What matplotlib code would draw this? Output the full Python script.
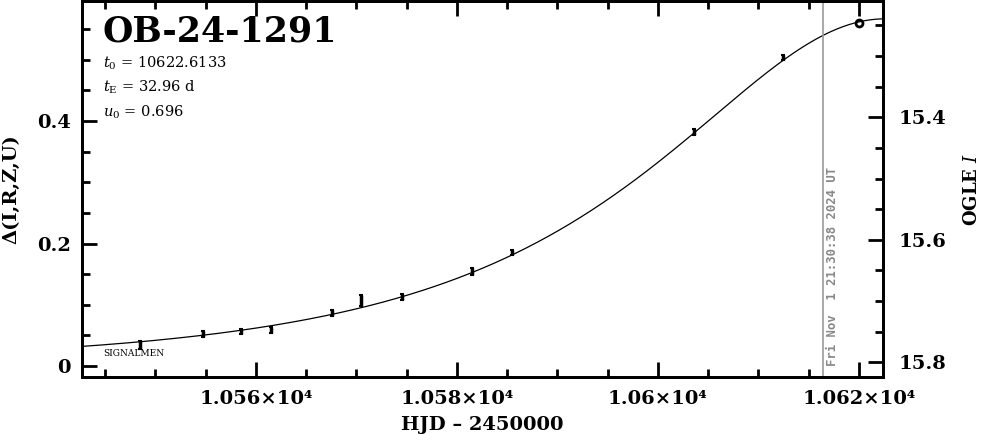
import numpy as np
import matplotlib
matplotlib.use('Agg')
import matplotlib.pyplot as plt
from matplotlib.ticker import MultipleLocator, FuncFormatter

# event parameters shown on the chart
event_name = 'OB-24-1291'
t0 = 10622.6133
tE = 32.96
u0 = 0.696
now_hjd = 10616.4
now_label = 'Fri Nov  1 21:30:38 2024 UT'
mag_base = 15.806

# photometry (HJD-2450000, delta mag, error)
hjd = [10548.5, 10554.7, 10558.5, 10561.5, 10567.6, 10570.5,
       10574.5, 10581.5, 10585.5, 10603.6, 10612.4]
dmag = [0.034, 0.052, 0.056, 0.059, 0.087, 0.107,
        0.113, 0.154, 0.185, 0.382, 0.504]
derr = [0.006, 0.005, 0.004, 0.005, 0.005, 0.009,
        0.005, 0.006, 0.004, 0.005, 0.004]
last_hjd = [10620.0]
last_dmag = [0.560]

plt.rcParams['font.family'] = ['DejaVu Serif']
plt.rcParams['mathtext.fontset'] = 'dejavuserif'

fig = plt.figure(figsize=(9.86, 4.34), dpi=100)
ax = fig.add_axes([0.0832, 0.1313, 0.8124, 0.8664])

# Paczynski model from the listed parameters
tt = np.linspace(10542.0, 10623.0, 600)
uu = np.sqrt(u0**2 + ((tt - t0) / tE)**2)
amp = (uu**2 + 2) / (uu * np.sqrt(uu**2 + 4))
ax.plot(tt, 2.5 * np.log10(amp), color='black', lw=0.9)

ax.errorbar(hjd, dmag, yerr=derr, fmt='none', ecolor='black',
            elinewidth=2.5, capsize=1.5, capthick=1.5)
ax.plot(last_hjd, last_dmag, 'o', mfc='none', mec='black', mew=2, ms=5)

ax.axvline(now_hjd, color='#999999', lw=1.2)
ax.text(now_hjd + 0.3, 0.0, now_label, rotation=90, color='#888888',
        fontsize=8.8, fontweight='bold', family='DejaVu Sans Mono',
        ha='left', va='bottom')

ax.set_xlim(10542.7, 10622.4)
ax.set_ylim(-0.018, 0.596)

ax.xaxis.set_major_locator(MultipleLocator(20))
ax.xaxis.set_minor_locator(MultipleLocator(5))
ax.yaxis.set_major_locator(MultipleLocator(0.2))
ax.yaxis.set_minor_locator(MultipleLocator(0.05))
ax.xaxis.set_major_formatter(FuncFormatter(lambda v, p: f'{v/1e4:g}×10⁴'))
ax.yaxis.set_major_formatter(FuncFormatter(lambda v, p: f'{v:g}'))

ax.tick_params(axis='x', which='both', direction='in', top=True, bottom=True,
               labelsize=14, pad=9, width=2)
ax.tick_params(axis='y', which='both', direction='in', left=True, right=False,
               labelsize=14, pad=8, width=2)
ax.tick_params(which='major', length=11)
ax.tick_params(which='minor', length=6)
for lab in ax.get_xticklabels() + ax.get_yticklabels():
    lab.set_fontweight('bold')
for sp in ax.spines.values():
    sp.set_linewidth(2)

ax.set_xlabel('HJD – 2450000', fontsize=14, fontweight='bold', labelpad=6)
ax.set_ylabel('Δ(I,R,Z,U)', fontsize=14, fontweight='bold', labelpad=12)

# OGLE I magnitude on the right
ax2 = ax.twinx()
ax2.set_ylim(mag_base + 0.018, mag_base - 0.596)
ax2.yaxis.set_major_locator(MultipleLocator(0.2))
ax2.yaxis.set_minor_locator(MultipleLocator(0.05))
ax2.tick_params(axis='y', which='both', direction='in', labelsize=14, pad=11, width=2)
ax2.tick_params(which='major', length=11)
ax2.tick_params(which='minor', length=6)
for lab in ax2.get_yticklabels():
    lab.set_fontweight('bold')
for sp in ax2.spines.values():
    sp.set_linewidth(2)
ax2.set_ylabel('OGLE $I$', fontsize=13, fontweight='bold', labelpad=12)

ax.text(0.025, 0.965, event_name, transform=ax.transAxes, fontsize=25,
        fontweight='bold', ha='left', va='top')
ax.text(0.026, 0.835, r'$t_0$ = 10622.6133', transform=ax.transAxes,
        fontsize=10.5, ha='left', va='center')
ax.text(0.026, 0.77, r'$t_{\rm E}$ = 32.96 d', transform=ax.transAxes,
        fontsize=10.5, ha='left', va='center')
ax.text(0.026, 0.705, r'$u_0$ = 0.696', transform=ax.transAxes,
        fontsize=10.5, ha='left', va='center')
ax.text(0.026, 0.062, 'SIGNALMEN', transform=ax.transAxes, fontsize=6.5,
        ha='left', va='center')

fig.savefig('out.png', dpi=100)
